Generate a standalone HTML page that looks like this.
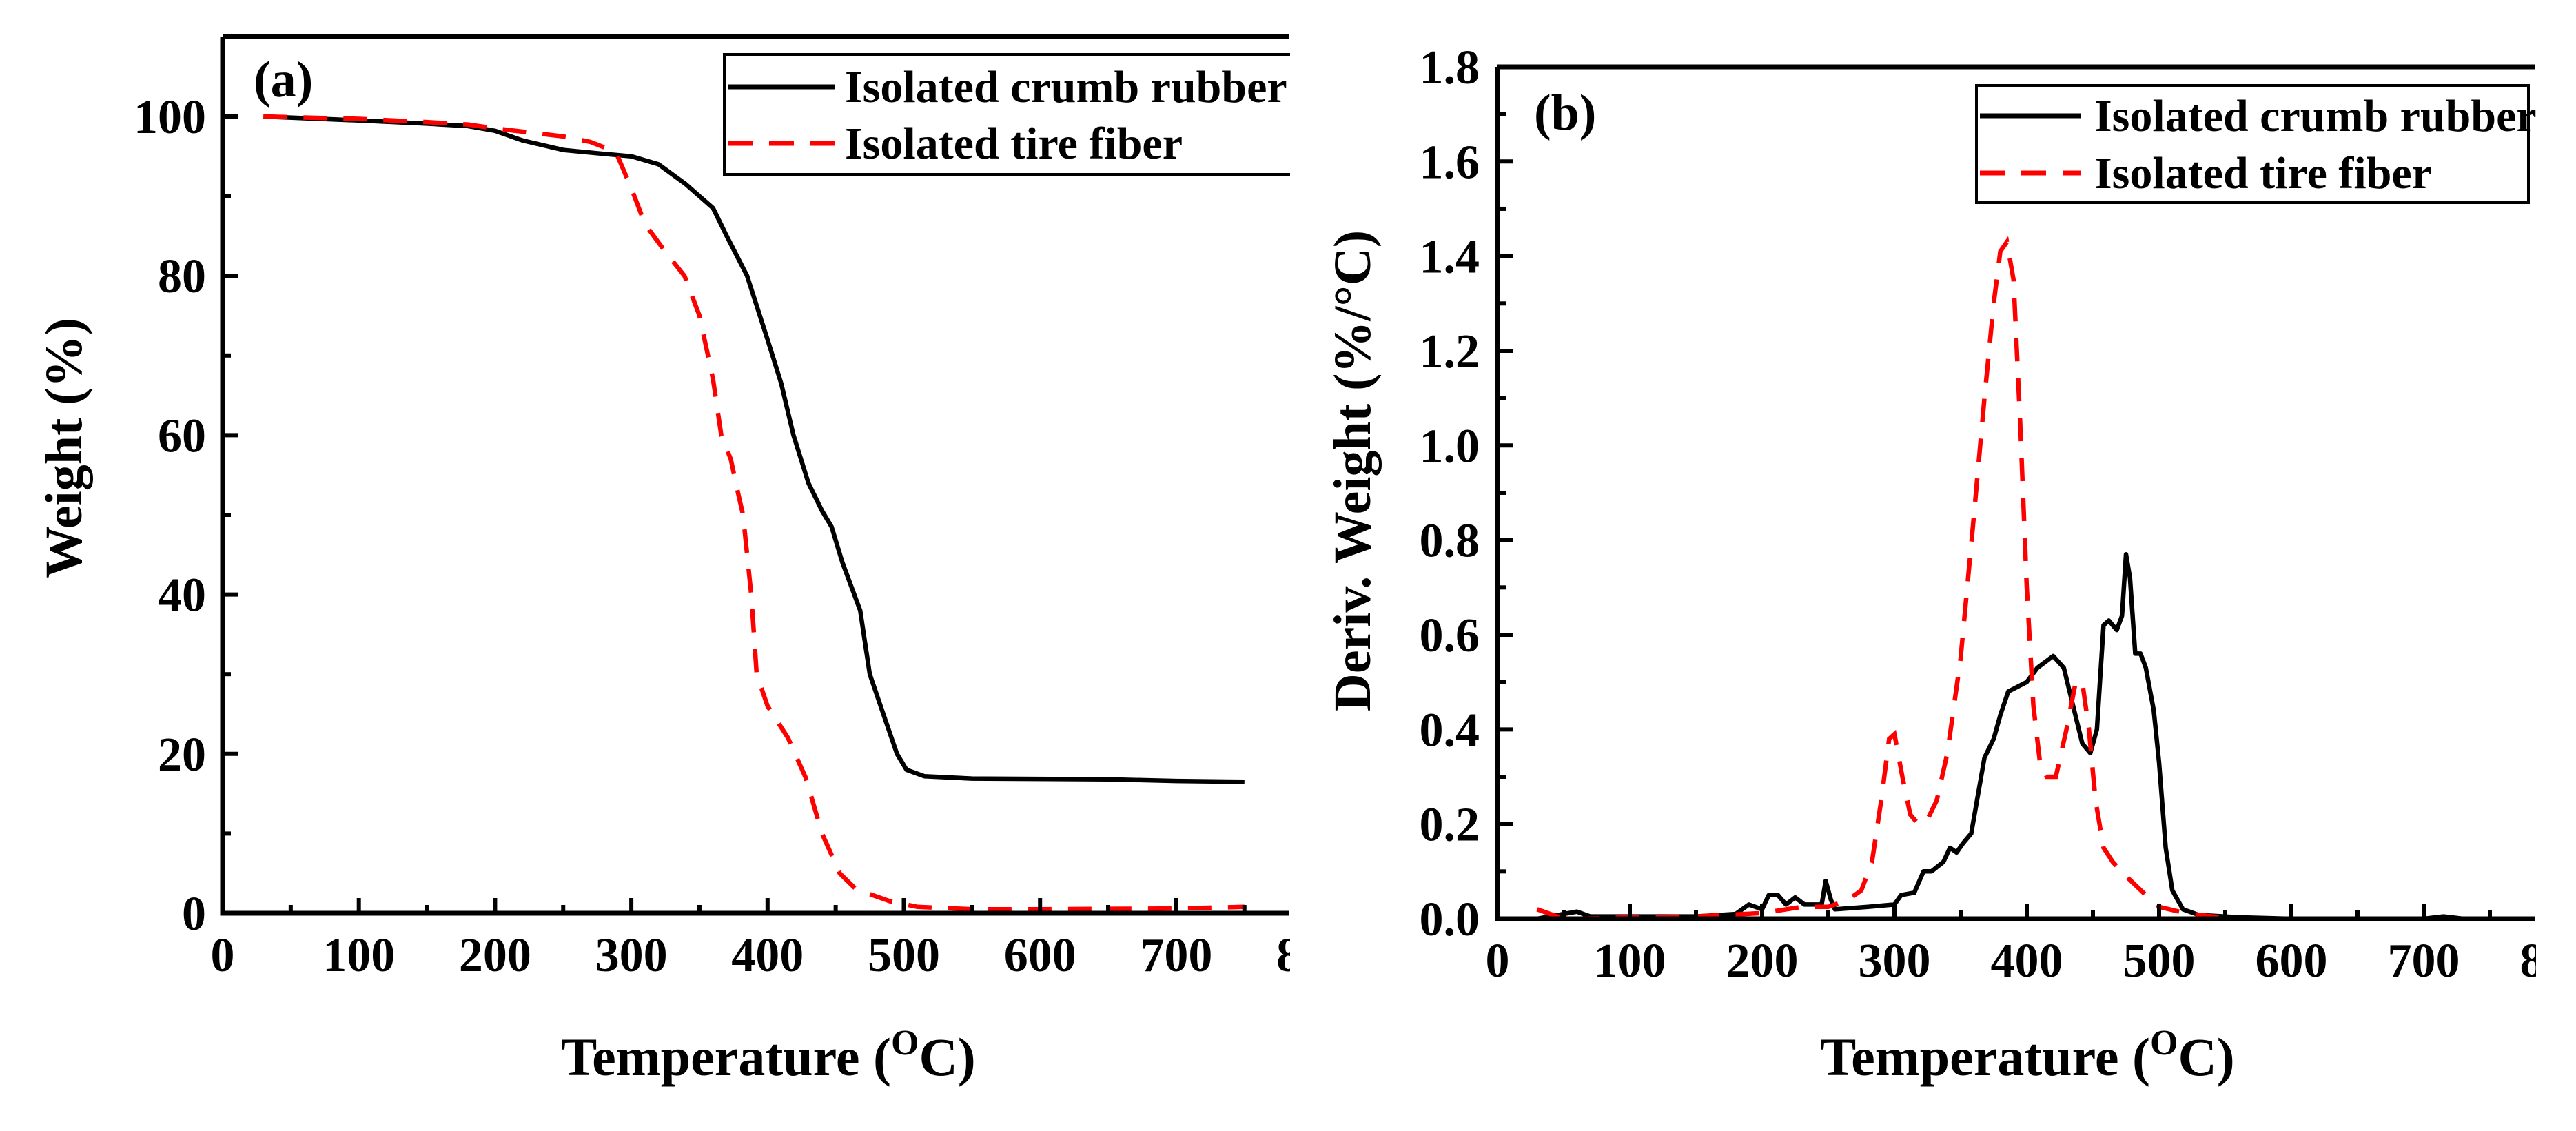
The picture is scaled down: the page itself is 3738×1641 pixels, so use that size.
<!DOCTYPE html>
<html><head><meta charset="utf-8"><style>
html,body{margin:0;padding:0;background:#fff;}
svg{display:block;}
text{font-family:"Liberation Serif",serif;font-weight:bold;fill:#000;}
</style></head><body>
<svg id="fig" width="3738" height="1641" viewBox="0 0 3738 1641" xmlns="http://www.w3.org/2000/svg">
<defs>
<clipPath id="clipA"><rect x="0" y="0" width="1872" height="1641"/></clipPath>
<clipPath id="clipB"><rect x="1880" y="0" width="1800" height="1641"/></clipPath>
</defs>
<g id="chartA" clip-path="url(#clipA)"></g>
<g id="chartB" clip-path="url(#clipB)"></g>
</svg>
<script>
// ---- Chart (a) data: weight % vs temperature ----
const tempA_crumb = [30,100,150,180,200,220,250,280,300,320,340,360,370,385,400,410,419,430,440,447,455,468,475,485,495,502,515,550,650,700,750];
const weight_crumb = [100,99.5,99.1,98.8,98.2,97,95.8,95.3,95,94,91.5,88.5,85,80,72,66.5,60,54,50.5,48.5,44,38,30,25,20,18,17.2,16.9,16.8,16.6,16.5];
const tempA_fiber = [30,100,150,180,200,250,270,285,290,300,310,325,339,350,360,366,373,378,382,388,392,400,415,428,440,453,465,490,510,550,600,700,750];
const weight_fiber = [100,99.7,99.3,99,98.5,97.5,96.8,95.8,95,91,86.5,83,80,75,67,60,57,53,50,40,30,26,22,17,10,5,3,1.5,0.8,0.5,0.5,0.6,0.8];
const xTicksA = [0,100,200,300,400,500,600,700,800];
const yTicksA = [0,20,40,60,80,100];

// ---- Chart (b) data: derivative weight vs temperature ----
const tempB_crumb = [30,50,60,70,100,150,180,190,200,205,212,218,225,232,245,248,252,255,280,300,305,315,322,328,337,342,347,352,358,368,375,380,386,393,400,408,420,428,435,442,448,453,458,462,468,472,475,478,482,486,490,496,500,505,510,518,530,560,600,700,715,730];
const deriv_crumb = [0.0,0.01,0.015,0.005,0.005,0.005,0.01,0.03,0.02,0.05,0.05,0.03,0.045,0.03,0.03,0.08,0.04,0.02,0.025,0.03,0.05,0.055,0.1,0.1,0.12,0.15,0.14,0.16,0.18,0.34,0.38,0.43,0.48,0.49,0.5,0.53,0.555,0.53,0.45,0.37,0.35,0.4,0.62,0.63,0.61,0.64,0.77,0.72,0.56,0.56,0.53,0.44,0.33,0.15,0.06,0.02,0.008,0.003,0.0,0.0,0.005,0.0];
const tempB_fiber = [30,45,60,100,150,200,230,250,265,275,283,290,296,300,306,312,318,325,332,340,350,360,368,375,380,385,390,395,400,405,410,415,422,430,437,442,447,452,458,465,475,490,500,520,540,560,720];
const deriv_fiber = [0.02,0.005,0.0,0.003,0.005,0.012,0.025,0.025,0.04,0.06,0.12,0.25,0.38,0.39,0.3,0.22,0.2,0.21,0.25,0.35,0.55,0.85,1.1,1.3,1.41,1.43,1.35,1.05,0.7,0.45,0.33,0.3,0.3,0.4,0.5,0.5,0.4,0.25,0.15,0.12,0.09,0.05,0.025,0.012,0.005,0.0,0.0];
const xTicksB = [0,100,200,300,400,500,600,700,800];
const yTicksB = [0.0,0.2,0.4,0.6,0.8,1.0,1.2,1.4,1.6,1.8];

const NS = "http://www.w3.org/2000/svg";
function mk(parent, tag, attrs, txt){
  const e = document.createElementNS(NS, tag);
  for (const k in attrs) e.setAttribute(k, attrs[k]);
  if (txt !== undefined) e.textContent = txt;
  parent.appendChild(e);
  return e;
}
function pathD(xs, ys, sx, sy){
  return xs.map((x,i)=>(i?'L':'M')+sx(x).toFixed(1)+' '+sy(ys[i]).toFixed(1)).join(' ');
}

function drawChart(g, cfg){
  const sx = v => cfg.x0 + (v - 0) * cfg.kx;
  const sy = v => cfg.y0 - (v - 0) * cfg.ky;
  const s1 = mk(g,'path',{d:pathD(cfg.t1,cfg.v1,sx,sy),fill:'none',stroke:'#000','stroke-width':6.5,'stroke-linejoin':'round'});
  
  
  const s2 = mk(g,'path',{d:pathD(cfg.t2,cfg.v2,sx,sy),fill:'none',stroke:'#f00','stroke-width':6.5,'stroke-dasharray':'34 24'});
  
  
  const ax = mk(g,'path',{d:`M${cfg.x0} ${cfg.yTop} L${cfg.x0} ${cfg.y0} L${cfg.xEnd} ${cfg.y0} M${cfg.x0} ${cfg.yTop} L${cfg.xEnd} ${cfg.yTop}`,fill:'none',stroke:'#000','stroke-width':7});
  
  
  cfg.xt.forEach((v,i)=>{
    const x = sx(v);
    if (x <= cfg.xEnd) mk(g,'line',{x1:x,x2:x,y1:cfg.y0,y2:cfg.y0-22,stroke:'#000','stroke-width':6});
    const xm = sx(v + cfg.xStep/2);
    if (xm <= cfg.xEnd) mk(g,'line',{x1:xm,x2:xm,y1:cfg.y0,y2:cfg.y0-12,stroke:'#000','stroke-width':6});
    const t = mk(g,'text',{x:x,y:cfg.y0+84,'text-anchor':'middle','font-size':70},String(v));
    
    
  });
  cfg.yt.forEach((v,i)=>{
    const y = sy(v);
    mk(g,'line',{x1:cfg.x0,x2:cfg.x0+22,y1:y,y2:y,stroke:'#000','stroke-width':6});
    const ym = sy(v + cfg.yStep/2);
    if (ym > cfg.yTop+5) mk(g,'line',{x1:cfg.x0,x2:cfg.x0+12,y1:ym,y2:ym,stroke:'#000','stroke-width':6});
    const t = mk(g,'text',{x:cfg.labRight,y:y+24,'text-anchor':'end','font-size':70},cfg.fmt(v));
    
    
  });
  const pl = mk(g,'text',{x:cfg.panelX,y:cfg.panelY,'font-size':74},cfg.panel);
  
  
  const lg = mk(g,'g',{});
  
  
  mk(lg,'rect',{x:cfg.lgX,y:cfg.lgY,width:cfg.lgW,height:cfg.lgH,fill:'#fff',stroke:'#000','stroke-width':4});
  const e1 = mk(lg,'g',{});
  
  
  mk(e1,'line',{x1:cfg.lgX+5,x2:cfg.lgX+5+cfg.sampW,y1:cfg.lgY+cfg.r1,y2:cfg.lgY+cfg.r1,stroke:'#000','stroke-width':7});
  mk(e1,'text',{x:cfg.lgTextX,y:cfg.lgY+cfg.r1+22,'font-size':66},'Isolated crumb rubber');
  const e2 = mk(lg,'g',{});
  
  
  mk(e2,'line',{x1:cfg.lgX+5,x2:cfg.lgX+5+cfg.sampW,y1:cfg.lgY+cfg.r2,y2:cfg.lgY+cfg.r2,stroke:'#f00','stroke-width':7,'stroke-dasharray':'36 24'});
  mk(e2,'text',{x:cfg.lgTextX,y:cfg.lgY+cfg.r2+22,'font-size':66},'Isolated tire fiber');
  const xt = mk(g,'text',{x:cfg.xTitleX,y:1560,'text-anchor':'middle','font-size':78});
  
  
  mk(xt,'tspan',{},'Temperature (');
  mk(xt,'tspan',{'font-size':52,dy:-30},'O');
  mk(xt,'tspan',{dy:30},'C)');
  const yt = mk(g,'text',{x:0,y:0,'text-anchor':'middle','font-size':76,transform:`translate(${cfg.yTitleX},${cfg.yTitleY}) rotate(-90)`},cfg.yTitle);
  
  
}

drawChart(document.getElementById('chartA'),{
  x0:323, y0:1325, kx:1.977, ky:11.56, yTop:53, xEnd:1870, xStep:100, yStep:20,
  t1:tempA_crumb, v1:weight_crumb, t2:tempA_fiber, v2:weight_fiber,
  xt:xTicksA, yt:yTicksA, fmt:v=>String(v), labRight:299,
  panel:'(a)', panelX:368, panelY:140,
  lgX:1051, lgY:79, lgW:900, lgH:174, sampW:155, r1:47, r2:129, lgTextX:1226,
  xTitleX:1115, yTitle:'Weight (%)', yTitleX:118, yTitleY:650
});
drawChart(document.getElementById('chartB'),{
  x0:2173, y0:1333, kx:1.92, ky:686.7, yTop:97, xEnd:3678, xStep:100, yStep:0.2,
  t1:tempB_crumb, v1:deriv_crumb, t2:tempB_fiber, v2:deriv_fiber,
  xt:xTicksB, yt:yTicksB, fmt:v=>v.toFixed(1), labRight:2147,
  panel:'(b)', panelX:2226, panelY:188,
  lgX:2868, lgY:124, lgW:801, lgH:170, sampW:146, r1:44, r2:127, lgTextX:3039,
  xTitleX:2942, yTitle:'Deriv. Weight (%/\u00B0C)', yTitleX:1988, yTitleY:683
});
</script>
</body></html>
